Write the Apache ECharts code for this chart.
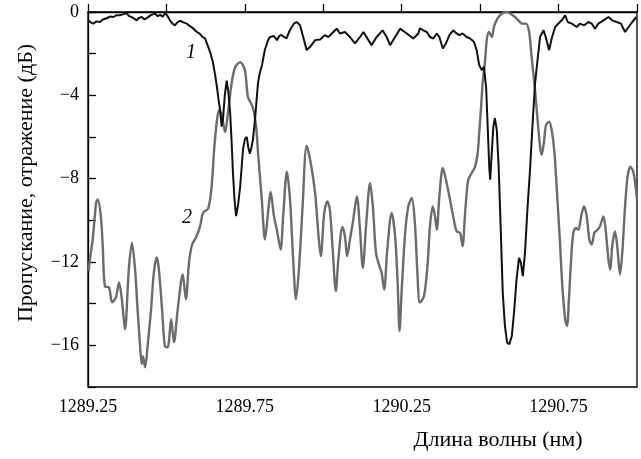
<!DOCTYPE html>
<html>
<head>
<meta charset="utf-8">
<script src="https://cdn.jsdelivr.net/npm/echarts@6/dist/echarts.min.js"></script>
<style>
  html, body { margin: 0; padding: 0; background: #fff; }
  #chart { width: 641px; height: 459px; }
</style>
</head>
<body>
<div id="chart"></div>
<script>
// кривая 1 - пропускание (чёрная)
var wl1 = [
  1289.251, 1289.259, 1289.267, 1289.277, 1289.288, 1289.299, 1289.310, 1289.320, 1289.331, 1289.341,
  1289.352, 1289.362, 1289.373, 1289.381, 1289.389, 1289.397, 1289.405, 1289.413, 1289.421, 1289.429,
  1289.437, 1289.450, 1289.464, 1289.472, 1289.480, 1289.488, 1289.496, 1289.504, 1289.511, 1289.519,
  1289.527, 1289.535, 1289.543, 1289.554, 1289.565, 1289.575, 1289.586, 1289.597, 1289.607, 1289.615,
  1289.623, 1289.629, 1289.633, 1289.641, 1289.648, 1289.655, 1289.661, 1289.667, 1289.671, 1289.676,
  1289.680, 1289.686, 1289.692, 1289.697, 1289.703, 1289.708, 1289.712, 1289.717, 1289.722, 1289.728,
  1289.735, 1289.744, 1289.750, 1289.756, 1289.761, 1289.766, 1289.771, 1289.776, 1289.782, 1289.787,
  1289.792, 1289.798, 1289.804, 1289.814, 1289.824, 1289.830, 1289.836, 1289.843, 1289.852, 1289.860,
  1289.867, 1289.875, 1289.883, 1289.891, 1289.899, 1289.907, 1289.915, 1289.926, 1289.936, 1289.947,
  1289.958, 1289.974, 1289.990, 1290.005, 1290.016, 1290.032, 1290.043, 1290.053, 1290.069, 1290.085,
  1290.101, 1290.117, 1290.128, 1290.144, 1290.154, 1290.170, 1290.189, 1290.202, 1290.213, 1290.229,
  1290.245, 1290.266, 1290.287, 1290.303, 1290.308, 1290.319, 1290.330, 1290.340, 1290.351, 1290.362,
  1290.370, 1290.381, 1290.391, 1290.402, 1290.414, 1290.425, 1290.434, 1290.444, 1290.457, 1290.468,
  1290.480, 1290.489, 1290.497, 1290.505, 1290.512, 1290.519, 1290.524, 1290.529, 1290.532, 1290.537,
  1290.542, 1290.547, 1290.553, 1290.559, 1290.566, 1290.572, 1290.579, 1290.586, 1290.593, 1290.601,
  1290.608, 1290.616, 1290.624, 1290.630, 1290.636, 1290.643, 1290.650, 1290.659, 1290.667, 1290.675,
  1290.684, 1290.691, 1290.702, 1290.709, 1290.720, 1290.728, 1290.739, 1290.749, 1290.760, 1290.771,
  1290.779, 1290.792, 1290.808, 1290.818, 1290.832, 1290.845, 1290.856, 1290.866, 1290.877, 1290.893,
  1290.909, 1290.921, 1290.935, 1290.949, 1290.962, 1290.973, 1290.985, 1290.998
];
var trans1 = [
  -0.40, -0.50, -0.56, -0.45, -0.48, -0.35, -0.30, -0.22, -0.24, -0.15,
  -0.16, -0.10, -0.05, -0.20, -0.24, -0.32, -0.40, -0.28, -0.24, -0.35,
  -0.30, -0.15, -0.08, -0.20, -0.14, -0.22, -0.05, -0.20, -0.40, -0.55,
  -0.64, -0.50, -0.42, -0.50, -0.56, -0.68, -0.80, -0.96, -1.05, -1.20,
  -1.27, -1.50, -1.55, -2.00, -2.40, -3.00, -3.60, -4.30, -4.70, -5.50,
  -5.20, -4.00, -3.30, -3.80, -4.80, -6.30, -7.70, -9.00, -9.80, -9.30,
  -8.40, -6.60, -6.10, -6.00, -6.50, -6.80, -6.50, -6.10, -5.20, -4.30,
  -3.40, -2.90, -2.60, -1.80, -1.35, -1.20, -1.27, -1.15, -1.35, -1.15,
  -1.10, -1.20, -1.27, -0.95, -0.73, -0.55, -0.48, -0.64, -1.20, -1.83,
  -1.67, -1.35, -1.32, -1.11, -1.20, -0.96, -0.80, -1.03, -0.96, -1.20,
  -1.51, -1.20, -0.96, -1.35, -1.59, -1.20, -0.88, -1.20, -1.59, -1.20,
  -0.80, -1.03, -1.27, -1.03, -0.78, -0.88, -0.96, -1.20, -1.27, -1.03,
  -1.20, -1.75, -1.51, -1.11, -0.88, -1.03, -1.11, -1.03, -1.20, -1.27,
  -1.43, -1.83, -2.55, -2.79, -2.63, -3.59, -5.50, -7.42, -8.05, -6.76,
  -5.50, -5.10, -5.66, -7.42, -10.60, -13.47, -15.07, -15.87, -15.95, -15.55,
  -14.43, -12.84, -11.80, -12.04, -12.68, -11.56, -9.65, -7.57, -5.40, -3.43,
  -2.15, -1.20, -0.88, -1.20, -1.83, -1.27, -0.72, -0.56, -0.40, -0.16,
  -0.48, -0.56, -0.72, -0.56, -0.64, -0.48, -0.56, -0.80, -0.56, -0.40,
  -0.24, -0.40, -0.48, -0.56, -0.96, -0.72, -0.48, -0.24
];

// кривая 2 - отражение (серая)
var wl2 = [
  1289.252, 1289.256, 1289.265, 1289.276, 1289.281, 1289.291, 1289.297, 1289.304, 1289.317, 1289.327,
  1289.339, 1289.349, 1289.358, 1289.368, 1289.380, 1289.390, 1289.400, 1289.408, 1289.416, 1289.421,
  1289.425, 1289.432, 1289.440, 1289.451, 1289.460, 1289.469, 1289.476, 1289.486, 1289.495, 1289.504,
  1289.515, 1289.524, 1289.536, 1289.552, 1289.562, 1289.572, 1289.582, 1289.594, 1289.607, 1289.617,
  1289.633, 1289.644, 1289.652, 1289.660, 1289.668, 1289.676, 1289.687, 1289.696, 1289.708, 1289.719,
  1289.735, 1289.750, 1289.760, 1289.775, 1289.786, 1289.792, 1289.804, 1289.814, 1289.824, 1289.832,
  1289.843, 1289.852, 1289.864, 1289.872, 1289.884, 1289.894, 1289.904, 1289.913, 1289.923, 1289.934,
  1289.947, 1289.960, 1289.974, 1289.984, 1289.992, 1290.003, 1290.013, 1290.021, 1290.030, 1290.040,
  1290.048, 1290.061, 1290.069, 1290.076, 1290.085, 1290.094, 1290.107, 1290.117, 1290.126, 1290.137,
  1290.149, 1290.158, 1290.168, 1290.179, 1290.186, 1290.194, 1290.204, 1290.218, 1290.229, 1290.237,
  1290.243, 1290.250, 1290.261, 1290.271, 1290.282, 1290.292, 1290.300, 1290.308, 1290.321, 1290.332,
  1290.340, 1290.349, 1290.356, 1290.362, 1290.370, 1290.381, 1290.391, 1290.404, 1290.414, 1290.425,
  1290.436, 1290.444, 1290.452, 1290.462, 1290.473, 1290.484, 1290.492, 1290.497, 1290.503, 1290.508,
  1290.516, 1290.521, 1290.528, 1290.537, 1290.544, 1290.555, 1290.569, 1290.585, 1290.597, 1290.611,
  1290.622, 1290.633, 1290.646, 1290.656, 1290.664, 1290.675, 1290.684, 1290.691, 1290.696, 1290.703,
  1290.710, 1290.720, 1290.728, 1290.737, 1290.745, 1290.754, 1290.762, 1290.771, 1290.777, 1290.783,
  1290.790, 1290.797, 1290.805, 1290.813, 1290.822, 1290.831, 1290.840, 1290.848, 1290.856, 1290.864,
  1290.874, 1290.882, 1290.893, 1290.900, 1290.909, 1290.915, 1290.921, 1290.930, 1290.937, 1290.946,
  1290.953, 1290.962, 1290.970, 1290.979, 1290.988, 1290.994, 1291.000
];
var refl2 = [
  -12.44, -11.88, -10.92, -9.15, -9.00, -9.82, -11.26, -13.17, -13.22, -13.94,
  -13.70, -12.98, -13.79, -15.23, -12.36, -11.07, -12.36, -14.27, -16.04, -16.90,
  -16.52, -17.05, -16.04, -14.27, -12.50, -11.78, -12.36, -14.27, -16.04, -16.09,
  -14.75, -15.85, -14.27, -12.60, -13.79, -12.02, -11.16, -10.83, -10.30, -9.63,
  -9.44, -8.39, -6.62, -5.33, -4.70, -4.94, -5.76, -4.85, -3.41, -2.65,
  -2.41, -2.79, -4.08, -4.56, -5.52, -6.76, -9.01, -10.92, -9.63, -8.63,
  -9.82, -10.45, -11.40, -9.82, -7.67, -9.01, -11.88, -13.79, -12.21, -9.34,
  -6.42, -7.25, -8.69, -10.60, -11.72, -9.65, -9.09, -9.49, -11.40, -13.40,
  -11.88, -10.32, -10.77, -11.72, -10.92, -10.13, -8.85, -10.45, -12.28, -10.13,
  -8.21, -9.33, -11.56, -12.20, -12.52, -13.32, -11.40, -9.65, -10.77, -13.00,
  -15.31, -13.32, -10.60, -9.33, -8.93, -10.13, -12.52, -13.95, -13.64, -12.20,
  -10.29, -9.33, -9.81, -10.45, -8.85, -7.49, -8.05, -9.01, -9.81, -10.53,
  -10.60, -11.24, -9.65, -8.05, -7.73, -7.42, -6.78, -5.82, -4.55, -3.43,
  -2.31, -1.35, -0.96, -1.20, -0.72, -0.32, -0.08, 0.00, -0.08, -0.24,
  -0.40, -0.56, -0.56, -0.95, -2.15, -3.75, -5.34, -6.46, -6.86, -6.30,
  -5.42, -5.26, -5.66, -6.78, -8.69, -10.92, -13.16, -14.75, -15.07, -13.79,
  -11.88, -10.60, -10.37, -10.45, -9.81, -9.33, -9.81, -10.92, -11.16, -10.60,
  -10.45, -10.29, -9.81, -10.45, -11.88, -12.36, -11.24, -10.53, -11.24, -12.60,
  -11.56, -9.33, -7.89, -7.42, -7.66, -8.21, -9.01
];

var xTicks = [1289.25, 1289.75, 1290.25, 1290.75];
var yTicks = [0, -4, -8, -12, -16];

function pairs(xs, ys) {
  var out = [];
  for (var i = 0; i < xs.length; i++) out.push([xs[i], ys[i]]);
  return out;
}

var chart = echarts.init(document.getElementById('chart'));
var serif = '"Liberation Serif", "DejaVu Serif", serif';

chart.setOption({
  animation: false,
  backgroundColor: '#fff',
  grid: {
    left: 88, right: 4, top: 12, bottom: 72,
    show: true, borderColor: '#000', borderWidth: 1.3
  },
  xAxis: {
    type: 'value',
    min: 1289.25, max: 1291.0, interval: 0.25,
    axisLine: { lineStyle: { color: '#000', width: 1.3 } },
    axisTick: { inside: true, length: 8, lineStyle: { color: '#000', width: 1.3 } },
    splitLine: { show: false },
    axisLabel: {
      color: '#000', fontFamily: serif, fontSize: 18, margin: 11,
      formatter: function (v) {
        for (var i = 0; i < xTicks.length; i++) {
          if (Math.abs(v - xTicks[i]) < 1e-6) return xTicks[i].toFixed(2);
        }
        return '';
      }
    }
  },
  yAxis: {
    type: 'value',
    min: -18, max: 0, interval: 2,
    axisLine: { show: true, lineStyle: { color: '#000', width: 1.3 } },
    axisTick: { show: true, inside: true, length: 8, lineStyle: { color: '#000', width: 1.3 } },
    splitLine: { show: false },
    axisLabel: {
      color: '#000', fontFamily: serif, fontSize: 18, margin: 9,
      formatter: function (v) {
        if (yTicks.indexOf(v) < 0) return '';
        return v < 0 ? '\u2212' + Math.abs(v) : String(v);
      }
    }
  },
  graphic: [
    {
      type: 'text', x: 26, y: 183, rotation: Math.PI / 2,
      style: {
        text: 'Пропускание, отражение (дБ)', fill: '#000',
        font: '22px ' + serif, align: 'center', verticalAlign: 'middle'
      }
    },
    {
      type: 'text', x: 498, y: 440,
      style: {
        text: 'Длина волны (нм)', fill: '#000',
        font: '22px ' + serif, align: 'center', verticalAlign: 'middle'
      }
    },
    {
      type: 'text', x: 191, y: 53,
      style: { text: '1', fill: '#000', font: 'italic 20px ' + serif, align: 'center', verticalAlign: 'middle' }
    },
    {
      type: 'text', x: 187, y: 218,
      style: { text: '2', fill: '#000', font: 'italic 20px ' + serif, align: 'center', verticalAlign: 'middle' }
    }
  ],
  series: [
    {
      name: '2', type: 'line', data: pairs(wl2, refl2),
      showSymbol: false, smooth: 0.3,
      lineStyle: { color: '#6b6b6b', width: 2.4 }
    },
    {
      name: '1', type: 'line', data: pairs(wl1, trans1),
      showSymbol: false,
      lineStyle: { color: '#111', width: 2 }
    }
  ]
});
</script>
</body>
</html>
